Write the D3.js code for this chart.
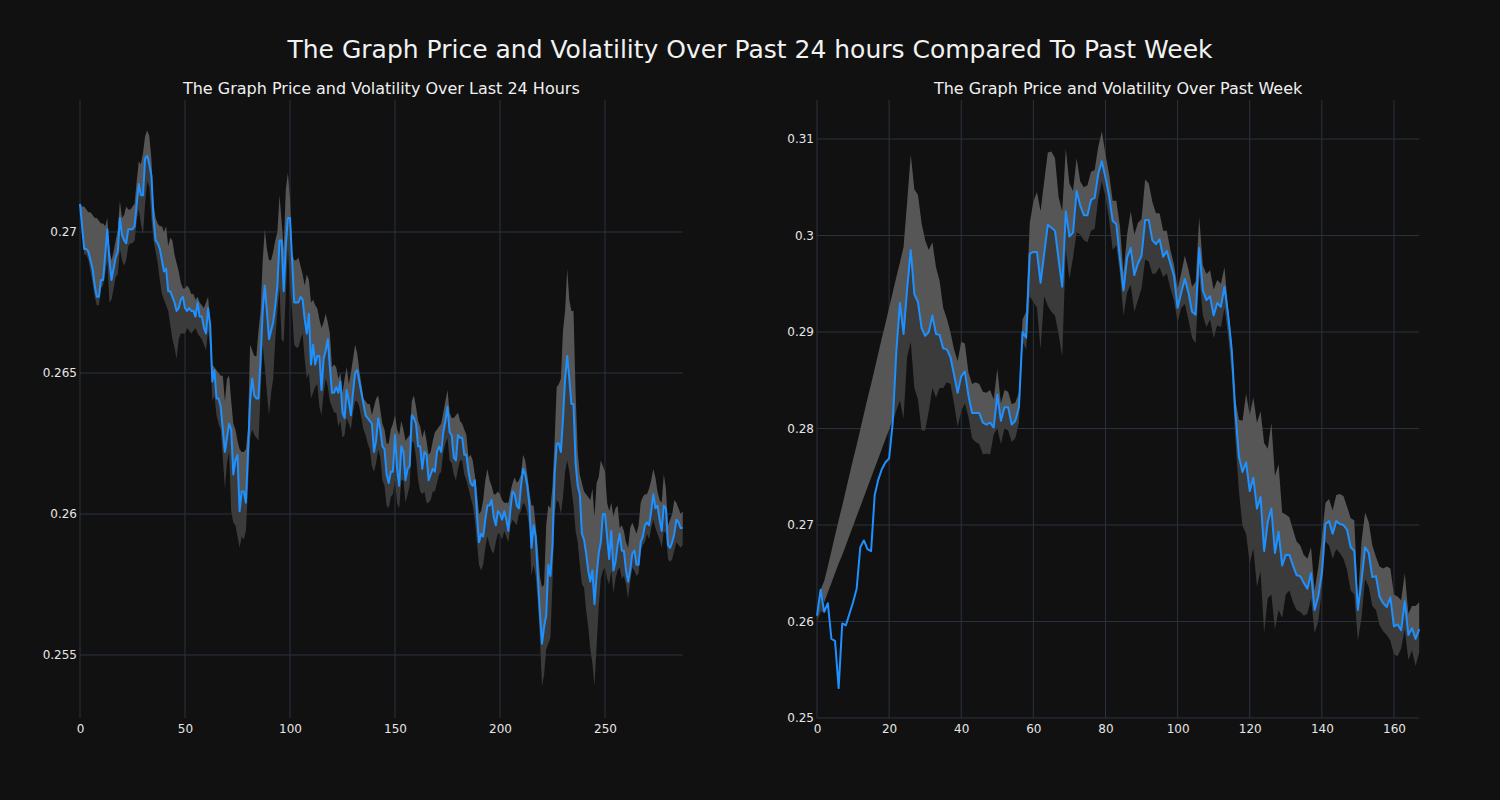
<!DOCTYPE html>
<html><head><meta charset="utf-8">
<script src="https://cdn.jsdelivr.net/npm/d3@7"></script>
<style>html,body{margin:0;background:#111111;} svg{display:block}</style>
</head><body><svg id="chart" width="1500" height="800"></svg>
<script>
const mainTitle = "The Graph Price and Volatility Over Past 24 hours Compared To Past Week";
const dayTitle = "The Graph Price and Volatility Over Last 24 Hours";
const weekTitle = "The Graph Price and Volatility Over Past Week";

const dayXTicks = [0, 50, 100, 150, 200, 250];
const dayYTicks = [0.255, 0.26, 0.265, 0.27];
const weekXTicks = [0, 20, 40, 60, 80, 100, 120, 140, 160];
const weekYTicks = [0.25, 0.26, 0.27, 0.28, 0.29, 0.3, 0.31];

const dayPrice = [
0.2710,0.2702,0.2694,0.2694,0.2693,0.2690,0.2687,0.2681,0.2677,0.2677,
0.2683,0.2683,0.2692,0.2701,0.2690,0.2683,0.2687,0.2691,0.2693,0.2705,
0.2699,0.2697,0.2696,0.2701,0.2701,0.2701,0.2702,0.2710,0.2717,0.2713,
0.2713,0.2726,0.2727,0.2724,0.2720,0.2705,0.2697,0.2696,0.2694,0.2690,
0.2686,0.2687,0.2679,0.2679,0.2677,0.2675,0.2672,0.2673,0.2676,0.2677,
0.2673,0.2672,0.2673,0.2672,0.2672,0.2670,0.2675,0.2670,0.2670,0.2666,
0.2664,0.2673,0.2667,0.2647,0.2651,0.2641,0.2641,0.2638,0.2630,0.2622,
0.2627,0.2632,0.2630,0.2614,0.2619,0.2621,0.2601,0.2608,0.2608,0.2604,
0.2622,0.2640,0.2648,0.2642,0.2641,0.2641,0.2655,0.2672,0.2681,0.2672,
0.2662,0.2665,0.2668,0.2674,0.2681,0.2697,0.2697,0.2679,0.2695,0.2705,
0.2705,0.2690,0.2675,0.2675,0.2675,0.2677,0.2676,0.2669,0.2664,0.2671,
0.2653,0.2660,0.2653,0.2656,0.2656,0.2644,0.2655,0.2658,0.2662,0.2652,
0.2643,0.2643,0.2645,0.2643,0.2647,0.2636,0.2634,0.2644,0.2640,0.2635,
0.2643,0.2650,0.2651,0.2647,0.2643,0.2639,0.2635,0.2634,0.2633,0.2632,
0.2622,0.2626,0.2634,0.2630,0.2624,0.2623,0.2614,0.2611,0.2615,0.2615,
0.2628,0.2616,0.2610,0.2624,0.2622,0.2612,0.2616,0.2617,0.2635,0.2634,
0.2632,0.2624,0.2624,0.2616,0.2622,0.2621,0.2612,0.2614,0.2616,0.2615,
0.2622,0.2624,0.2622,0.2629,0.2633,0.2638,0.2629,0.2628,0.2620,0.2619,
0.2628,0.2627,0.2627,0.2621,0.2621,0.2615,0.2611,0.2610,0.2612,0.2600,
0.2590,0.2593,0.2592,0.2598,0.2603,0.2603,0.2605,0.2599,0.2596,0.2601,
0.2600,0.2598,0.2601,0.2598,0.2594,0.2602,0.2608,0.2607,0.2603,0.2602,
0.2610,0.2616,0.2614,0.2610,0.2603,0.2588,0.2596,0.2592,0.2578,0.2565,
0.2554,0.2560,0.2564,0.2582,0.2578,0.2589,0.2614,0.2625,0.2625,0.2622,
0.2634,0.2648,0.2656,0.2648,0.2639,0.2639,0.2618,0.2610,0.2607,0.2593,
0.2591,0.2586,0.2580,0.2576,0.2580,0.2568,0.2578,0.2586,0.2590,0.2600,
0.2600,0.2592,0.2584,0.2594,0.2580,0.2583,0.2589,0.2593,0.2587,0.2587,
0.2580,0.2576,0.2580,0.2586,0.2587,0.2582,0.2582,0.2590,0.2592,0.2596,
0.2597,0.2596,0.2601,0.2607,0.2602,0.2603,0.2598,0.2594,0.2603,0.2602,
0.2589,0.2588,0.2590,0.2593,0.2598,0.2597,0.2595,0.2595];

const dayUpper = [
0.2710,0.2709,0.2709,0.2708,0.2707,0.2707,0.2706,0.2705,0.2705,0.2704,
0.2703,0.2703,0.2702,0.2705,0.2694,0.2690,0.2693,0.2697,0.2701,0.2711,
0.2705,0.2706,0.2709,0.2708,0.2708,0.2709,0.2710,0.2718,0.2725,0.2724,
0.2728,0.2734,0.2736,0.2734,0.2726,0.2710,0.2705,0.2703,0.2702,0.2702,
0.2700,0.2702,0.2695,0.2698,0.2697,0.2692,0.2689,0.2686,0.2682,0.2680,
0.2680,0.2681,0.2680,0.2678,0.2678,0.2676,0.2677,0.2675,0.2674,0.2673,
0.2675,0.2677,0.2668,0.2653,0.2652,0.2651,0.2650,0.2649,0.2649,0.2640,
0.2648,0.2649,0.2640,0.2632,0.2630,0.2626,0.2623,0.2622,0.2622,0.2623,
0.2630,0.2660,0.2658,0.2656,0.2656,0.2665,0.2672,0.2690,0.2701,0.2694,
0.2690,0.2690,0.2693,0.2697,0.2700,0.2713,0.2704,0.2694,0.2715,0.2721,
0.2712,0.2692,0.2690,0.2690,0.2691,0.2688,0.2685,0.2681,0.2685,0.2683,
0.2675,0.2676,0.2674,0.2673,0.2669,0.2666,0.2668,0.2671,0.2668,0.2664,
0.2652,0.2653,0.2652,0.2648,0.2650,0.2643,0.2648,0.2652,0.2646,0.2650,
0.2655,0.2660,0.2657,0.2651,0.2646,0.2641,0.2640,0.2639,0.2639,0.2635,
0.2638,0.2641,0.2642,0.2637,0.2632,0.2630,0.2625,0.2625,0.2630,0.2632,
0.2635,0.2630,0.2628,0.2633,0.2630,0.2626,0.2627,0.2628,0.2640,0.2642,
0.2638,0.2633,0.2631,0.2627,0.2630,0.2626,0.2621,0.2622,0.2626,0.2629,
0.2630,0.2631,0.2632,0.2636,0.2640,0.2644,0.2636,0.2634,0.2634,0.2635,
0.2636,0.2633,0.2632,0.2630,0.2628,0.2620,0.2621,0.2619,0.2614,0.2608,
0.2600,0.2601,0.2605,0.2612,0.2616,0.2612,0.2610,0.2607,0.2607,0.2608,
0.2607,0.2605,0.2604,0.2604,0.2604,0.2608,0.2611,0.2613,0.2611,0.2612,
0.2614,0.2621,0.2619,0.2614,0.2608,0.2603,0.2603,0.2596,0.2588,0.2578,
0.2574,0.2575,0.2596,0.2603,0.2602,0.2610,0.2626,0.2645,0.2646,0.2648,
0.2665,0.2672,0.2687,0.2676,0.2672,0.2672,0.2643,0.2622,0.2614,0.2611,
0.2608,0.2607,0.2606,0.2605,0.2609,0.2599,0.2611,0.2613,0.2619,0.2617,
0.2615,0.2604,0.2601,0.2604,0.2599,0.2602,0.2603,0.2595,0.2596,0.2594,
0.2590,0.2588,0.2595,0.2597,0.2595,0.2593,0.2596,0.2604,0.2606,0.2607,
0.2607,0.2609,0.2612,0.2616,0.2613,0.2608,0.2605,0.2604,0.2614,0.2609,
0.2596,0.2598,0.2600,0.2605,0.2604,0.2602,0.2600,0.2601];

const dayLower = [
0.2709,0.2700,0.2692,0.2692,0.2690,0.2686,0.2682,0.2677,0.2674,0.2674,
0.2680,0.2681,0.2685,0.2690,0.2675,0.2676,0.2680,0.2684,0.2685,0.2694,
0.2690,0.2688,0.2690,0.2695,0.2696,0.2696,0.2697,0.2704,0.2708,0.2703,
0.2699,0.2710,0.2718,0.2716,0.2705,0.2697,0.2693,0.2689,0.2683,0.2678,
0.2676,0.2674,0.2672,0.2667,0.2662,0.2659,0.2655,0.2662,0.2664,0.2664,
0.2664,0.2666,0.2665,0.2664,0.2665,0.2666,0.2664,0.2663,0.2662,0.2660,
0.2658,0.2665,0.2659,0.2640,0.2642,0.2635,0.2632,0.2630,0.2620,0.2609,
0.2618,0.2622,0.2601,0.2597,0.2596,0.2592,0.2588,0.2592,0.2591,0.2594,
0.2609,0.2627,0.2630,0.2628,0.2627,0.2626,0.2643,0.2660,0.2652,0.2643,
0.2635,0.2643,0.2648,0.2662,0.2672,0.2680,0.2662,0.2661,0.2678,0.2694,
0.2680,0.2672,0.2660,0.2659,0.2659,0.2662,0.2664,0.2655,0.2648,0.2650,
0.2641,0.2643,0.2645,0.2646,0.2638,0.2635,0.2643,0.2648,0.2645,0.2640,
0.2638,0.2636,0.2636,0.2631,0.2633,0.2627,0.2628,0.2634,0.2632,0.2630,
0.2636,0.2640,0.2640,0.2638,0.2634,0.2630,0.2628,0.2625,0.2623,0.2617,
0.2615,0.2618,0.2623,0.2620,0.2612,0.2610,0.2603,0.2602,0.2606,0.2607,
0.2612,0.2604,0.2602,0.2612,0.2612,0.2604,0.2607,0.2610,0.2626,0.2625,
0.2620,0.2612,0.2608,0.2607,0.2608,0.2604,0.2604,0.2605,0.2608,0.2608,
0.2611,0.2614,0.2615,0.2622,0.2625,0.2627,0.2619,0.2618,0.2614,0.2612,
0.2616,0.2619,0.2619,0.2614,0.2612,0.2609,0.2606,0.2603,0.2598,0.2590,
0.2582,0.2580,0.2582,0.2588,0.2592,0.2589,0.2587,0.2586,0.2590,0.2593,
0.2593,0.2591,0.2594,0.2592,0.2590,0.2596,0.2598,0.2597,0.2596,0.2600,
0.2601,0.2604,0.2603,0.2600,0.2595,0.2578,0.2582,0.2578,0.2569,0.2556,
0.2539,0.2543,0.2552,0.2554,0.2556,0.2576,0.2600,0.2605,0.2604,0.2600,
0.2606,0.2615,0.2619,0.2615,0.2609,0.2603,0.2594,0.2590,0.2582,0.2575,
0.2574,0.2566,0.2560,0.2552,0.2547,0.2539,0.2553,0.2567,0.2577,0.2580,
0.2581,0.2577,0.2575,0.2580,0.2572,0.2577,0.2580,0.2581,0.2577,0.2578,
0.2575,0.2570,0.2576,0.2581,0.2580,0.2578,0.2579,0.2587,0.2589,0.2590,
0.2593,0.2591,0.2595,0.2598,0.2595,0.2593,0.2591,0.2588,0.2594,0.2593,
0.2584,0.2583,0.2584,0.2587,0.2590,0.2589,0.2588,0.2589];

const weekPrice = [
0.2606,0.2633,0.2610,0.2619,0.2582,0.2580,0.2531,0.2598,0.2596,0.2608,
0.2620,0.2634,0.2677,0.2684,0.2675,0.2673,0.2731,0.2747,0.2758,0.2765,
0.2769,0.2806,0.2880,0.2930,0.2898,0.2945,0.2985,0.2939,0.2931,0.2904,
0.2896,0.2900,0.2917,0.2898,0.2897,0.2883,0.2882,0.2874,0.2856,0.2837,
0.2854,0.2859,0.2834,0.2816,0.2816,0.2816,0.2806,0.2804,0.2806,0.2801,
0.2835,0.2808,0.2822,0.2822,0.2804,0.2808,0.2822,0.2900,0.2894,0.2981,
0.2983,0.2983,0.2951,0.2981,0.3011,0.3008,0.3005,0.2975,0.2947,0.3025,
0.2999,0.3003,0.3046,0.3031,0.3021,0.3021,0.3037,0.3039,0.3064,0.3077,
0.3060,0.3041,0.3015,0.3012,0.2977,0.2943,0.2977,0.2987,0.2959,0.2971,
0.2979,0.3016,0.3016,0.2995,0.2991,0.2996,0.2978,0.2984,0.2971,0.2958,
0.2925,0.2941,0.2955,0.2941,0.2921,0.2918,0.2987,0.2943,0.2933,0.2937,
0.2917,0.2930,0.2926,0.2947,0.2918,0.2882,0.2818,0.2771,0.2755,0.2765,
0.2735,0.2749,0.2717,0.2729,0.2673,0.2703,0.2717,0.2671,0.2693,0.2658,
0.2669,0.2669,0.2658,0.2648,0.2647,0.2640,0.2634,0.2650,0.2612,0.2626,
0.2650,0.2701,0.2704,0.2691,0.2704,0.2701,0.2700,0.2695,0.2677,0.2673,
0.2612,0.2642,0.2677,0.2671,0.2646,0.2647,0.2626,0.2619,0.2615,0.2625,
0.2595,0.2597,0.2591,0.2621,0.2586,0.2593,0.2582,0.2592];

const weekUpper = [
0.2610,0.2626,0.2642,0.2657,0.2673,0.2689,0.2705,0.2720,0.2736,0.2752,
0.2768,0.2783,0.2799,0.2815,0.2831,0.2846,0.2862,0.2878,0.2894,0.2909,
0.2925,0.2941,0.2957,0.2972,0.2988,0.3035,0.3084,0.3048,0.3042,0.3013,
0.2995,0.2985,0.2993,0.2967,0.2953,0.2925,0.2914,0.2900,0.2882,0.2870,
0.2890,0.2888,0.2858,0.2846,0.2848,0.2846,0.2838,0.2837,0.2840,0.2830,
0.2862,0.2826,0.2840,0.2838,0.2825,0.2827,0.2837,0.2913,0.2921,0.3013,
0.3035,0.3045,0.3025,0.3056,0.3086,0.3087,0.3080,0.3040,0.3025,0.3090,
0.3054,0.3046,0.3080,0.3056,0.3050,0.3052,0.3066,0.3068,0.3092,0.3108,
0.3084,0.3064,0.3036,0.3036,0.3010,0.2961,0.3001,0.3025,0.3001,0.3013,
0.3017,0.3058,0.3054,0.3035,0.3023,0.3023,0.3005,0.3005,0.2985,0.2970,
0.2945,0.2961,0.2979,0.2965,0.2947,0.2952,0.3019,0.2969,0.2960,0.2964,
0.2944,0.2954,0.2950,0.2967,0.2925,0.2890,0.2830,0.2809,0.2808,0.2836,
0.2814,0.2832,0.2806,0.2818,0.2785,0.2779,0.2806,0.2751,0.2763,0.2713,
0.2711,0.2708,0.2695,0.2683,0.2679,0.2669,0.2665,0.2677,0.2632,0.2656,
0.2687,0.2723,0.2727,0.2715,0.2731,0.2732,0.2730,0.2719,0.2707,0.2705,
0.2620,0.2683,0.2713,0.2703,0.2679,0.2667,0.2657,0.2655,0.2657,0.2655,
0.2628,0.2626,0.2622,0.2650,0.2608,0.2616,0.2616,0.2620];

const weekLower = [
0.2600,0.2610,0.2620,0.2630,0.2640,0.2650,0.2660,0.2669,0.2679,0.2689,
0.2699,0.2709,0.2719,0.2729,0.2739,0.2749,0.2759,0.2769,0.2779,0.2789,
0.2799,0.2809,0.2819,0.2829,0.2810,0.2874,0.2890,0.2842,0.2830,0.2798,
0.2798,0.2818,0.2842,0.2832,0.2842,0.2842,0.2848,0.2846,0.2826,0.2802,
0.2818,0.2826,0.2812,0.2790,0.2786,0.2784,0.2773,0.2774,0.2773,0.2794,
0.2800,0.2784,0.2800,0.2798,0.2786,0.2790,0.2806,0.2890,0.2882,0.2937,
0.2931,0.2925,0.2882,0.2937,0.2927,0.2921,0.2917,0.2898,0.2874,0.2985,
0.2955,0.2977,0.3003,0.3001,0.2995,0.2993,0.3005,0.3007,0.3038,0.3056,
0.3040,0.3017,0.2985,0.2990,0.2961,0.2917,0.2941,0.2949,0.2921,0.2933,
0.2945,0.2975,0.2973,0.2960,0.2961,0.2967,0.2957,0.2961,0.2945,0.2933,
0.2910,0.2925,0.2929,0.2913,0.2894,0.2888,0.2959,0.2917,0.2905,0.2913,
0.2894,0.2907,0.2905,0.2925,0.2897,0.2858,0.2790,0.2735,0.2699,0.2691,
0.2660,0.2676,0.2636,0.2652,0.2588,0.2624,0.2628,0.2592,0.2612,0.2604,
0.2628,0.2632,0.2620,0.2612,0.2610,0.2606,0.2608,0.2624,0.2588,0.2600,
0.2632,0.2683,0.2679,0.2665,0.2675,0.2671,0.2665,0.2653,0.2632,0.2628,
0.2580,0.2604,0.2644,0.2636,0.2616,0.2612,0.2596,0.2590,0.2586,0.2580,
0.2566,0.2564,0.2572,0.2592,0.2560,0.2570,0.2554,0.2568];

const FONT = "'DejaVu Sans', sans-serif";
const svg = d3.select('#chart');
svg.append('rect').attr('width', 1500).attr('height', 800).attr('fill', '#111111');

svg.append('text')
  .attr('x', 750).attr('y', 58).attr('text-anchor', 'middle')
  .attr('fill', '#f2f2f2').style('font-family', FONT).style('font-size', '25px')
  .text(mainTitle);

function panel(cfg) {
  const x = d3.scaleLinear().domain(cfg.xDomain).range([cfg.left, cfg.right]);
  const y = d3.scaleLinear().domain(cfg.yDomain).range([cfg.bottom, cfg.top]);
  const g = svg.append('g');
  const gridColor = '#2a3340';

  g.selectAll('line.gx').data(cfg.xTicks).join('line').attr('class', 'gx')
    .attr('x1', d => x(d)).attr('x2', d => x(d))
    .attr('y1', cfg.top).attr('y2', cfg.bottom)
    .attr('stroke', gridColor).attr('stroke-width', 1);
  g.selectAll('line.gy').data(cfg.yTicks).join('line').attr('class', 'gy')
    .attr('x1', cfg.left).attr('x2', cfg.right)
    .attr('y1', d => y(d)).attr('y2', d => y(d))
    .attr('stroke', gridColor).attr('stroke-width', 1);

  const rows = cfg.price.map((p, i) => ({ i, p, u: cfg.upper[i], l: cfg.lower[i] }));

  const dark = d3.area()
    .x(d => x(d.i))
    .y0(d => y(Math.min(d.l, d.p)))
    .y1(d => y(d.p));
  const light = d3.area()
    .x(d => x(d.i))
    .y0(d => y(Math.max(d.p, d.l)))
    .y1(d => y(Math.max(d.u, d.p, d.l)));

  g.append('path').datum(rows).attr('d', dark).attr('fill', '#3b3b3b');
  g.append('path').datum(rows).attr('d', light).attr('fill', '#565656');

  const line = d3.line().x(d => x(d.i)).y(d => y(d.p));
  g.append('path').datum(rows).attr('d', line)
    .attr('fill', 'none').attr('stroke', '#1e90ff').attr('stroke-width', 2)
    .attr('stroke-linejoin', 'round');

  const fmt = d3.format('');
  const ax = g.append('g').attr('transform', `translate(0,${cfg.bottom})`)
    .call(d3.axisBottom(x).tickValues(cfg.xTicks).tickSize(0).tickPadding(6).tickFormat(fmt));
  const ay = g.append('g').attr('transform', `translate(${cfg.left},0)`)
    .call(d3.axisLeft(y).tickValues(cfg.yTicks).tickSize(0).tickPadding(3).tickFormat(fmt));
  [ax, ay].forEach(a => {
    a.select('.domain').remove();
    a.selectAll('text').attr('fill', '#e6e6e6').style('font-family', FONT).style('font-size', '12px');
  });

  svg.append('text')
    .attr('x', (cfg.left + cfg.right) / 2).attr('y', 94).attr('text-anchor', 'middle')
    .attr('fill', '#f0f0f0').style('font-family', FONT).style('font-size', '16px')
    .text(cfg.title);
}

panel({
  title: dayTitle, price: dayPrice, upper: dayUpper, lower: dayLower,
  xDomain: [0, 287], yDomain: [0.252766, 0.274681],
  left: 80, right: 682.7, top: 100, bottom: 718,
  xTicks: dayXTicks, yTicks: dayYTicks
});
panel({
  title: weekTitle, price: weekPrice, upper: weekUpper, lower: weekLower,
  xDomain: [0, 167], yDomain: [0.25, 0.314041],
  left: 817, right: 1419.2, top: 100, bottom: 718,
  xTicks: weekXTicks, yTicks: weekYTicks
});
</script>
</body></html>
